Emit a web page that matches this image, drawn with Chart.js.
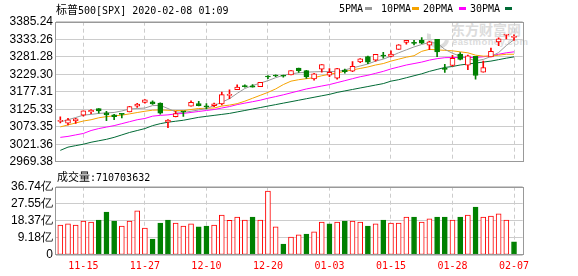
<!DOCTYPE html>
<html>
<head>
<meta charset="utf-8">
<script src="https://cdn.jsdelivr.net/npm/chart.js@4.4.0/dist/chart.umd.min.js"></script>
<style>
  body { margin: 0; background: #fff; width: 578px; height: 276px; position: relative; overflow: hidden; }
  canvas { position: absolute; left: 0; z-index: 1; }
  #main { top: 0; }
  #vol { top: 172px; }
  .t { position: absolute; font-family: "DejaVu Sans Mono", monospace; font-size: 10px; line-height: 12px; color: #000; white-space: nowrap; z-index: 2; }
  .cjk { font-family: "Noto Sans CJK SC", sans-serif; font-size: 11px; }
  .sw { position: absolute; width: 7px; height: 3px; z-index: 2; }
  .wm { position: absolute; color: #dcdcdc; white-space: nowrap; z-index: 0; font-weight: bold; }
  .logo { position: absolute; left: 427px; top: 25px; width: 14px; height: 16px; border: 4px solid transparent; border-left-color: #dcdcdc; border-bottom-color: #dcdcdc; border-radius: 50%; transform: rotate(-30deg); z-index: 0; }
</style>
</head>
<body>
<div class="t" style="left:56px;top:3px"><span class="cjk">标普</span>500[SPX] 2020-02-08 01:09</div>

<div class="t" style="left:339px;top:3px">5PMA</div><div class="sw" style="left:365px;top:7px;background:#999"></div>
<div class="t" style="left:381px;top:3px">10PMA</div><div class="sw" style="left:412px;top:7px;background:#f5a300"></div>
<div class="t" style="left:423px;top:3px">20PMA</div><div class="sw" style="left:459px;top:7px;background:#ff00ff"></div>
<div class="t" style="left:470px;top:3px">30PMA</div><div class="sw" style="left:505px;top:7px;background:#006a35"></div>

<div class="logo"></div>
<div class="wm cjk" style="left:451px;top:21px;font-size:14px;line-height:16px">东方财富网</div>
<div class="wm" style="left:452px;top:37px;font-family:'Liberation Sans';font-size:9.5px;line-height:10px;letter-spacing:0.4px">eastmoney.com</div>

<div class="t" style="left:57px;top:170px"><span class="cjk">成交量</span>:710703632</div>

<canvas id="main" width="578" height="172"></canvas>
<canvas id="vol" width="578" height="104"></canvas>

<script>
'use strict';
// trading days on the x axis (2019-11-12 .. 2020-02-07)
var dates = ['11-12', '11-13', '11-14', '11-15', '11-18', '11-19', '11-20', '11-21', '11-22', '11-25',
  '11-26', '11-27', '11-29', '12-02', '12-03', '12-04', '12-05', '12-06', '12-09', '12-10',
  '12-11', '12-12', '12-13', '12-16', '12-17', '12-18', '12-19', '12-20', '12-23', '12-24',
  '12-26', '12-27', '12-30', '12-31', '01-02', '01-03', '01-06', '01-07', '01-08', '01-09',
  '01-10', '01-13', '01-14', '01-15', '01-16', '01-17', '01-21', '01-22', '01-23', '01-24',
  '01-27', '01-28', '01-29', '01-30', '01-31', '02-03', '02-04', '02-05', '02-06', '02-07'];
var tickLabels = ['11-15', '11-27', '12-10', '12-20', '01-03', '01-15', '01-28', '02-07'];

var open = [3089.28, 3084.18, 3090.75, 3107.92, 3117.91, 3127.45, 3114.66, 3108.49, 3111.41, 3117.44,
  3134.85, 3145.49, 3147.18, 3143.85, 3087.41, 3103.50, 3119.21, 3134.62, 3141.86, 3135.36,
  3135.75, 3141.23, 3166.65, 3183.63, 3195.40, 3195.21, 3192.32, 3223.33, 3226.05, 3225.45,
  3227.20, 3247.23, 3240.09, 3215.18, 3244.67, 3226.36, 3217.55, 3241.86, 3238.59, 3266.03,
  3281.81, 3271.13, 3285.35, 3282.27, 3302.97, 3323.66, 3321.03, 3330.02, 3315.77, 3333.10,
  3247.16, 3255.35, 3289.46, 3256.45, 3282.33, 3235.66, 3280.61, 3324.91, 3344.92, 3338.50];
var high = [3102.61, 3098.06, 3098.20, 3120.46, 3124.17, 3127.64, 3118.97, 3110.11, 3112.87, 3133.83,
  3142.69, 3154.26, 3150.30, 3144.31, 3094.97, 3119.38, 3119.45, 3150.60, 3148.87, 3142.12,
  3143.98, 3176.28, 3182.68, 3197.71, 3198.22, 3198.48, 3205.48, 3225.65, 3227.78, 3226.43,
  3240.08, 3247.93, 3240.92, 3231.72, 3258.14, 3246.15, 3246.84, 3244.91, 3267.07, 3275.58,
  3282.99, 3288.13, 3294.25, 3298.66, 3317.11, 3329.88, 3329.79, 3337.77, 3326.88, 3333.18,
  3258.85, 3285.78, 3293.47, 3285.91, 3282.33, 3268.44, 3306.92, 3337.58, 3347.96, 3346.50];
var low = [3084.73, 3078.80, 3083.26, 3104.60, 3112.06, 3113.47, 3091.41, 3094.55, 3099.26, 3117.44,
  3131.00, 3143.41, 3139.34, 3110.78, 3070.33, 3102.53, 3103.76, 3134.62, 3135.46, 3126.09,
  3133.21, 3138.47, 3156.51, 3183.63, 3191.03, 3191.14, 3192.32, 3216.03, 3222.30, 3220.51,
  3227.20, 3234.37, 3216.57, 3212.03, 3235.53, 3222.34, 3214.64, 3232.43, 3236.67, 3263.67,
  3260.86, 3268.43, 3277.19, 3280.69, 3302.82, 3318.86, 3316.61, 3320.04, 3301.87, 3281.53,
  3234.50, 3253.22, 3271.89, 3242.80, 3214.68, 3235.66, 3280.61, 3313.75, 3334.39, 3329.50];
var close = [3091.84, 3094.04, 3096.63, 3120.46, 3122.03, 3120.18, 3108.46, 3103.54, 3110.29, 3133.64,
  3140.52, 3153.63, 3140.98, 3113.87, 3093.20, 3112.76, 3117.43, 3145.91, 3135.96, 3132.52,
  3141.63, 3168.57, 3168.80, 3191.45, 3192.52, 3191.14, 3205.37, 3221.22, 3224.01, 3223.38,
  3239.91, 3240.02, 3221.29, 3230.78, 3257.85, 3234.85, 3246.28, 3237.18, 3253.05, 3274.70,
  3265.35, 3288.13, 3283.15, 3289.29, 3316.81, 3329.62, 3320.79, 3321.75, 3325.54, 3295.47,
  3243.63, 3276.24, 3273.40, 3283.66, 3225.52, 3248.92, 3297.59, 3334.69, 3345.78, 3341.00];
var prevClose = 3087.01; // close of the day before the first bar

var ma5 = [3087.5, 3094.2, 3100.8, 3107.8, 3110.1, 3113.0, 3114.5, 3115.9, 3120.3, 3126.1,
  3127.5, 3129.0, 3136.2, 3136.8, 3127.5, 3117.4, 3115.9, 3119.4, 3123.2, 3127.5,
  3136.2, 3146.4, 3156.6, 3172.5, 3187.0, 3195.7, 3203.0, 3210.2, 3219.0, 3226.2,
  3230.6, 3233.5, 3235.5, 3236.4, 3237.2, 3237.2, 3237.2, 3242.2, 3248.0, 3253.8,
  3259.6, 3268.3, 3274.1, 3282.8, 3293.0, 3301.7, 3310.4, 3317.6, 3323.4, 3322.0,
  3303.1, 3291.5, 3282.8, 3277.0, 3269.0, 3273.2, 3282.0, 3293.6, 3314.5, 3332.0];
var ma10 = [3073.0, 3078.8, 3084.6, 3090.4, 3094.2, 3100.0, 3103.5, 3105.8, 3107.8, 3111.6,
  3115.6, 3119.4, 3122.6, 3123.2, 3122.3, 3121.7, 3121.2, 3124.6, 3127.5, 3128.4,
  3129.0, 3134.8, 3137.7, 3142.0, 3149.3, 3158.0, 3166.7, 3175.4, 3185.6, 3198.6,
  3208.8, 3213.1, 3216.1, 3219.0, 3224.8, 3229.1, 3233.5, 3237.8, 3242.2, 3246.5,
  3250.9, 3256.7, 3261.0, 3268.3, 3274.1, 3279.9, 3284.3, 3297.3, 3303.1, 3301.7,
  3300.2, 3298.8, 3295.8, 3292.9, 3285.9, 3283.0, 3283.0, 3285.9, 3288.6, 3288.6];
var ma20 = [3041.9, 3044.8, 3049.2, 3053.5, 3062.2, 3068.0, 3072.4, 3076.8, 3082.6, 3088.4,
  3094.2, 3098.0, 3104.9, 3107.2, 3108.7, 3111.6, 3113.0, 3115.9, 3118.8, 3121.7,
  3124.6, 3129.0, 3133.3, 3139.1, 3143.5, 3147.8, 3152.2, 3158.0, 3162.9, 3168.2,
  3174.0, 3179.8, 3185.6, 3189.9, 3194.3, 3198.6, 3204.4, 3210.2, 3216.1, 3221.9,
  3226.2, 3232.0, 3237.8, 3245.1, 3250.9, 3256.7, 3261.0, 3265.4, 3271.2, 3275.5,
  3278.4, 3279.0, 3279.0, 3279.0, 3279.0, 3281.2, 3284.1, 3288.6, 3292.9, 3295.8];
var ma30 = [3003.3, 3012.9, 3017.3, 3021.6, 3027.4, 3031.8, 3036.1, 3041.9, 3049.2, 3056.4,
  3062.2, 3068.0, 3076.8, 3082.6, 3086.9, 3089.8, 3092.7, 3097.1, 3101.4, 3104.3,
  3107.2, 3110.1, 3113.0, 3117.4, 3121.7, 3126.1, 3130.4, 3134.8, 3139.1, 3143.5,
  3147.8, 3152.2, 3156.6, 3160.9, 3165.3, 3169.6, 3175.4, 3179.8, 3184.1, 3188.5,
  3192.8, 3197.2, 3201.5, 3208.8, 3213.1, 3218.9, 3224.8, 3230.6, 3237.8, 3243.6,
  3249.4, 3252.3, 3256.7, 3259.6, 3262.5, 3265.4, 3268.3, 3272.6, 3277.0, 3280.8];

// volume in 亿
var volume = [16.1, 16.7, 16.1, 18.3, 17.7, 18.8, 23.1, 18.3, 15.6, 18.3,
  23.7, 14.5, 8.6, 17.2, 18.8, 17.2, 15.6, 16.7, 15.1, 15.6,
  16.1, 21.5, 18.6, 20.4, 18.8, 20.4, 18.8, 34.4, 15.1, 5.9,
  9.7, 10.8, 11.3, 12.4, 17.7, 16.7, 17.7, 18.3, 18.3, 17.7,
  15.6, 16.7, 18.8, 17.2, 17.2, 20.4, 20.4, 17.7, 19.4, 20.4,
  20.4, 18.8, 20.4, 21.5, 25.8, 20.4, 21.0, 22.1, 18.8, 7.11];

var priceTicks = [2969.38, 3021.36, 3073.35, 3125.33, 3177.31, 3229.30, 3281.28, 3333.26, 3385.24];
var volTicks = [0, 9.18, 18.37, 27.55, 36.74];
var volTickLabels = ['0', '9.18亿', '18.37亿', '27.55亿', '36.74亿'];

var RED = '#ff0000';
var GREEN = '#008000';
var X_MIN = -0.56;
var X_MAX = 60.13;

var candleColor = [], bodyFill = [], volColor = [], volFill = [];
for (var i = 0; i < dates.length; i++) {
  var up = close[i] >= open[i];
  candleColor.push(up ? RED : GREEN);
  bodyFill.push(up ? '#fff' : GREEN);
  var prev = i === 0 ? prevClose : close[i - 1];
  var volUp = close[i] >= prev;
  volColor.push(volUp ? RED : GREEN);
  volFill.push(volUp ? '#fff' : GREEN);
}

function points(arr) {
  return arr.map(function(v, i) { return { x: i, y: v }; });
}

function dateTicks(scale) {
  scale.ticks = tickLabels.map(function(t) { return { value: dates.indexOf(t) }; });
}

// gray box round the plot area
var framePlugin = {
  id: 'frame',
  afterDraw: function(chart) {
    var a = chart.chartArea;
    var ctx = chart.ctx;
    ctx.save();
    ctx.strokeStyle = '#999';
    ctx.lineWidth = 1;
    var l = Math.floor(a.left) - 0.5, t = Math.round(a.top) + 0.5;
    var r = Math.round(a.right) + 0.5, b = Math.round(a.bottom) - 0.5;
    ctx.strokeRect(l, t, r - l, b - t);
    ctx.restore();
  }
};

function maLine(arr, color) {
  return {
    type: 'line', data: points(arr), borderColor: color, borderWidth: 1,
    pointRadius: 0, tension: 0, fill: false
  };
}

var mainChart = new Chart(document.getElementById('main'), {
  type: 'bar',
  data: {
    datasets: [
      {
        data: dates.map(function(d, i) { return { x: i, y: [open[i], close[i]] }; }),
        backgroundColor: bodyFill, borderColor: candleColor, borderWidth: 1,
        borderSkipped: false, barThickness: 5, minBarLength: 1, grouped: false
      },
      {
        data: dates.map(function(d, i) { return { x: i, y: [low[i], high[i]] }; }),
        backgroundColor: candleColor, borderWidth: 0, barThickness: 1, minBarLength: 1, grouped: false
      },
      maLine(ma5, '#999'),
      maLine(ma10, '#f5a300'),
      maLine(ma20, '#ff00ff'),
      maLine(ma30, '#006a35')
    ]
  },
  options: {
    responsive: false,
    animation: false,
    devicePixelRatio: 1,
    layout: { padding: { top: 21.7, right: 55.3, bottom: 7, left: 0 } },
    plugins: { legend: { display: false }, tooltip: { enabled: false } },
    scales: {
      x: {
        type: 'linear', min: X_MIN, max: X_MAX, offset: false,
        afterBuildTicks: dateTicks,
        afterFit: function(s) { s.height = 0; },
        ticks: { display: false },
        grid: { color: '#ccc', drawTicks: false, offset: false },
        border: { display: false, dash: [4, 3] }
      },
      y: {
        min: 2969.38, max: 3385.24,
        afterBuildTicks: function(s) { s.ticks = priceTicks.map(function(v) { return { value: v }; }); },
        afterFit: function(s) { s.width = 56; },
        ticks: {
          color: '#000', padding: 3, autoSkip: false,
          font: { family: 'Liberation Sans', size: 12 },
          callback: function(v) { return v.toFixed(2); }
        },
        grid: { color: '#ccc', drawTicks: false },
        border: { display: false }
      }
    }
  },
  plugins: [framePlugin]
});

var volChart = new Chart(document.getElementById('vol'), {
  type: 'bar',
  data: {
    datasets: [{
      data: points(volume),
      backgroundColor: volFill, borderColor: volColor, borderWidth: 1,
      borderSkipped: false, barThickness: 5, grouped: false
    }]
  },
  options: {
    responsive: false,
    animation: false,
    devicePixelRatio: 1,
    layout: { padding: { top: 14.7, right: 55.3, bottom: 0, left: 0 } },
    plugins: { legend: { display: false }, tooltip: { enabled: false } },
    scales: {
      x: {
        type: 'linear', min: X_MIN, max: X_MAX, offset: false,
        afterBuildTicks: dateTicks,
        afterFit: function(s) { s.height = 21; },
        ticks: {
          color: RED, padding: 5, maxRotation: 0, autoSkip: false,
          font: { family: 'DejaVu Sans Mono', size: 10 },
          callback: function(v) { return dates[v]; }
        },
        grid: { color: '#ccc', drawTicks: false, offset: false },
        border: { display: false, dash: [4, 3] }
      },
      y: {
        min: 0, max: 36.74,
        afterBuildTicks: function(s) { s.ticks = volTicks.map(function(v) { return { value: v }; }); },
        afterFit: function(s) { s.width = 56; },
        ticks: {
          color: '#000', padding: 3, autoSkip: false,
          font: { family: 'Liberation Sans', size: 12 },
          callback: function(v, idx) { return volTickLabels[idx]; }
        },
        grid: { color: '#ccc', drawTicks: false },
        border: { display: false }
      }
    }
  },
  plugins: [framePlugin]
});
</script>
</body>
</html>
